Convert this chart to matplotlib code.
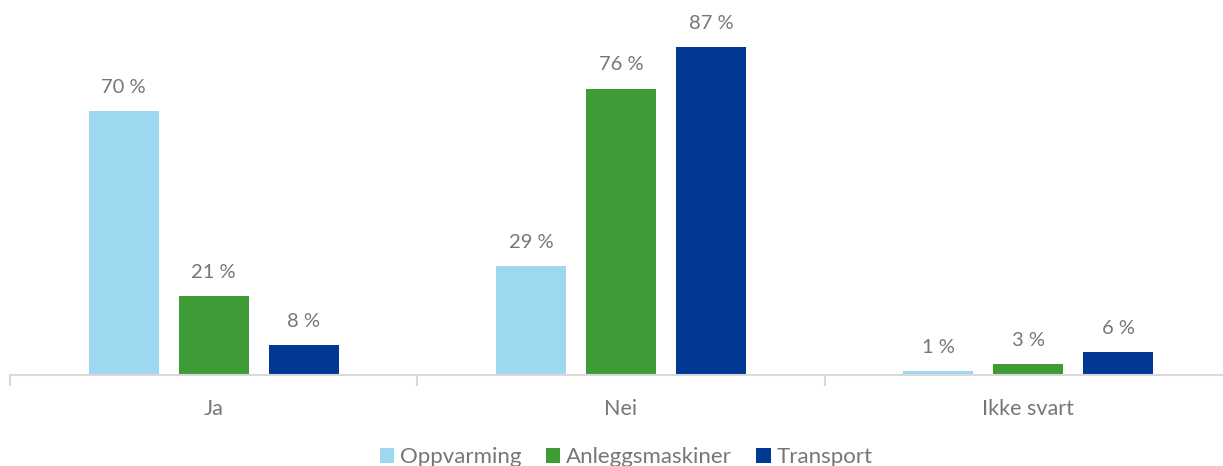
import matplotlib.pyplot as plt
import numpy as np

categories = ["Ja", "Nei", "Ikke svart"]
series = ["Oppvarming", "Anleggsmaskiner", "Transport"]
oppvarming = [70, 29, 1]
anleggsmaskiner = [21, 76, 3]
transport = [8, 87, 6]
colors = ["#9DD7F0", "#3F9B35", "#003893"]

plt.rcParams['font.family'] = ['Lato', 'DejaVu Sans']
grey = "#767676"

fig = plt.figure(figsize=(12.23, 4.66), dpi=100)
# axes run a little past the right edge, like the original
ax = fig.add_axes([10 / 1223, 1 - 375 / 466, 1222 / 1223, 375 / 466])

x = np.arange(len(categories))
width = 0.172
step = 0.221
for i, (vals, name) in enumerate(zip([oppvarming, anleggsmaskiner, transport], series)):
    pos = x + (i - 1) * step
    ax.bar(pos, vals, width, color=colors[i], label=name, zorder=2)
    for xp, v in zip(pos, vals):
        ax.text(xp, v + 4.0, f"{v} %", ha="center", va="bottom", fontsize=14.5, color=grey)

ax.set_xlim(-0.5, 2.5)
ax.set_ylim(0, 99.5)
ax.set_yticks([])
for s in ["top", "right", "left"]:
    ax.spines[s].set_visible(False)
ax.spines["bottom"].set_color("#D9D9D9")
ax.spines["bottom"].set_linewidth(1.5)
ax.spines["bottom"].set_zorder(3)

ax.set_xticks([-0.5, 0.5, 1.5, 2.5])
ax.set_xticklabels([])
ax.tick_params(axis="x", length=8, width=1.5, color="#D9D9D9")
ax.set_xticks(x, minor=True)
ax.set_xticklabels(categories, minor=True, fontsize=15.5, color=grey)
ax.tick_params(axis="x", which="minor", length=0, pad=17)

fig.legend(loc="center", bbox_to_anchor=(626 / 1223, 1 - 457 / 466), ncol=3, frameon=False,
           fontsize=16, labelcolor=grey, handlelength=0.65, handleheight=0.65,
           handletextpad=0.25, columnspacing=1.1)

fig.savefig("out.png", dpi=100)
